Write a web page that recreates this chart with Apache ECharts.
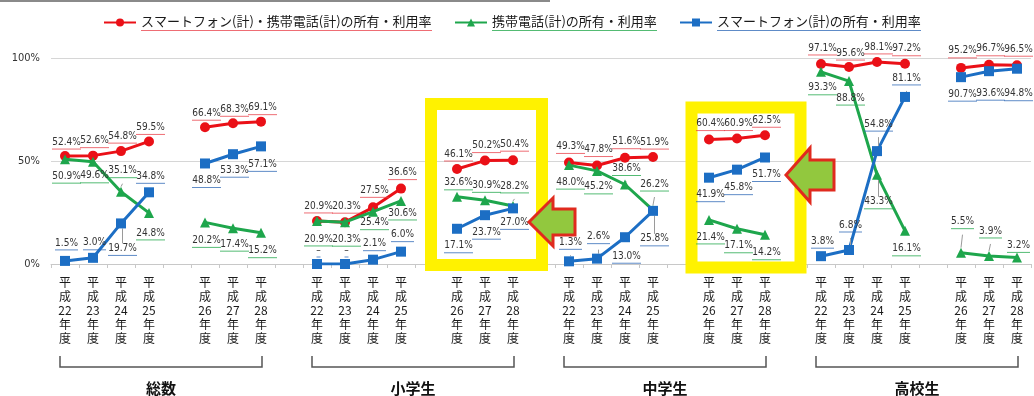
<!DOCTYPE html>
<html>
<head>
<meta charset="utf-8">
<script src="https://cdn.jsdelivr.net/npm/echarts@6/dist/echarts.min.js"></script>
<style>html,body{margin:0;padding:0;background:#fff;}#c{width:1034px;height:396px;}</style>
</head>
<body>
<div id="c"></div>
<script>
// ---------------- data ----------------
const groups = ['総数', '小学生', '中学生', '高校生'];
const years = ['平成22年度', '平成23年度', '平成24年度', '平成25年度', '平成26年度', '平成27年度', '平成28年度'];
const seriesNames = [
  'スマートフォン(計)・携帯電話(計)の所有・利用率',
  '携帯電話(計)の所有・利用率',
  'スマートフォン(計)の所有・利用率'
];
// 7 values per group, groups in order 総数, 小学生, 中学生, 高校生
const combinedRate = [52.4, 52.6, 54.8, 59.5, 66.4, 68.3, 69.1,
                      20.9, 20.3, 27.5, 36.6, 46.1, 50.2, 50.4,
                      49.3, 47.8, 51.6, 51.9, 60.4, 60.9, 62.5,
                      97.1, 95.6, 98.1, 97.2, 95.2, 96.7, 96.5];
const mobileRate = [50.9, 49.6, 35.1, 24.8, 20.2, 17.4, 15.2,
                    20.9, 20.3, 25.4, 30.6, 32.6, 30.9, 28.2,
                    48.0, 45.2, 38.6, 26.2, 21.4, 17.1, 14.2,
                    93.3, 88.8, 43.3, 16.1, 5.5, 3.9, 3.2];
// 0 = no data ("–")
const smartRate = [1.5, 3.0, 19.7, 34.8, 48.8, 53.3, 57.1,
                   0, 0, 2.1, 6.0, 17.1, 23.7, 27.0,
                   1.3, 2.6, 13.0, 25.8, 41.9, 45.8, 51.7,
                   3.8, 6.8, 54.8, 81.1, 90.7, 93.6, 94.8];
const yTicks = [0, 50, 100];

// ---------------- label layout (style, separate from data) ----------------
const combinedLabelDy = [-14, -15, -15, -14, -14, -14, -14, -15, -16, -17, -16, -15, -15, -16,
                         -16, -16, -16, -15, -16, -15, -15, -16, -14, -15, -15, -17, -16, -16];
const mobileLabelDy = [17, 14, -21, 20, 18, 16, 18, 18, 17, 11, 12, -14, -15, -20,
                       17, 16, -16, -26, 17, 17, 18, 16, 17, 27, 18, -31, -25, -12];
const smartLabelDy = [-18, -15, 25, -16, 17, 16, 18, -14, -14, -16, -17, 17, 17, 14,
                      -19, -22, 19, 28, 17, 18, 17, -15, -25, -27, -19, 17, 22, 25];
const mobileLeaders = [2, 13, 16, 17, 23, 25, 26];
const smartLeaders = [0, 1, 2, 14, 15, 17, 22, 23, 24];
const combinedLeaders = [];

// ---------------- helpers ----------------
function toSlots(arr, filler) {
  const out = [];
  for (let g = 0; g < groups.length; g++) {
    for (let k = 0; k < 7; k++) {
      if (k === 4) out.push(filler);
      out.push(arr[g * 7 + k]);
    }
    if (g < groups.length - 1) out.push(filler);
  }
  return out;
}
const groupStarts = groups.map((_, g) => g * 9);
const categories = toSlots(groups.flatMap(() => years), '');

const mctx = document.createElement('canvas').getContext('2d');
function hasFont(name) {
  const t = '52.4%mmWWiil';
  mctx.font = '40px monospace';
  const a = mctx.measureText(t).width;
  mctx.font = '40px "' + name + '", monospace';
  const b = mctx.measureText(t).width;
  return Math.abs(a - b) > 0.5;
}
let labelFont = 'Liberation Sans', labelSize = 10;
if (hasFont('Liberation Sans Narrow')) { labelFont = 'Liberation Sans Narrow'; labelSize = 11; }
else if (hasFont('DejaVu Sans Condensed')) { labelFont = 'DejaVu Sans Condensed'; labelSize = 10; }
const cjk = '"Noto Sans CJK JP", sans-serif';

function textW(text, size, fam) {
  mctx.font = size + 'px ' + fam;
  return mctx.measureText(text).width;
}
function fmtVal(v) { return v === 0 ? '–' : v.toFixed(1) + '%'; }

const colors = ['#ea1017', '#1ea64c', '#1c6ec4'];
const underline = ['rgba(232,60,70,0.75)', 'rgba(40,170,80,0.8)', 'rgba(40,100,180,0.75)'];
const symbols = ['circle', 'triangle', 'rect'];
const symSizes = [10, 10, 10];
const rates = [combinedRate, mobileRate, smartRate];
const dys = [combinedLabelDy, mobileLabelDy, smartLabelDy];
const leaders = [combinedLeaders, mobileLeaders, smartLeaders];

function makeRich(si) {
  const rich = {
    t: { fontSize: labelSize, fontFamily: labelFont, color: '#333', lineHeight: 12, align: 'center' }
  };
  for (let w = 4; w <= 40; w++) {
    rich['u' + w] = { width: w, height: 1, lineHeight: 2, backgroundColor: underline[si], align: 'center' };
  }
  return rich;
}

function buildSeries(si) {
  const vals = rates[si];
  const dyS = toSlots(dys[si], 0);
  const items = vals.map((v, i) => {
    const it = { value: v };
    if (leaders[si].indexOf(i) >= 0) it.labelLine = { show: true };
    return it;
  });
  const data = toSlots(items, null);
  return {
    name: seriesNames[si],
    type: 'line',
    data: data,
    connectNulls: false,
    symbol: symbols[si],
    symbolSize: symSizes[si],
    showAllSymbol: true,
    lineStyle: { color: colors[si], width: 3 },
    itemStyle: { color: colors[si] },
    z: 3 + si,
    label: {
      show: true,
      position: 'inside',
      formatter: function (p) {
        if (p.value == null) return '';
        const txt = fmtVal(p.value);
        const w = Math.max(4, Math.min(40, Math.round(textW(txt, labelSize, labelFont))));
        return '{t|' + txt + '}\n{u' + w + '| }';
      },
      rich: makeRich(si)
    },
    labelLine: { show: false, lineStyle: { color: '#9a9a9a', width: 1 } },
    labelLayout: function (p) {
      return { dx: 1.5, dy: dyS[p.dataIndex] + 1 };
    },
    emphasis: { disabled: true },
    animation: false
  };
}

const chart = echarts.init(document.getElementById('c'), null, { renderer: 'canvas' });

const legendRich = { t: { fontSize: 13, fontFamily: cjk, color: '#1a1a1a', lineHeight: 16 } };
seriesNames.forEach((n, i) => {
  legendRich['lu' + i] = { width: Math.round(textW(n, 13, cjk)), height: 1, lineHeight: 2, backgroundColor: underline[i] };
});

const option = {
  backgroundColor: '#ffffff',
  animation: false,
  textStyle: { fontFamily: cjk },
  legend: {
    data: seriesNames,
    left: 98,
    top: 10,
    itemWidth: 32,
    itemHeight: 10,
    itemGap: 22,
    selectedMode: false,
    formatter: function (name) {
      const i = seriesNames.indexOf(name);
      return '{t|' + name + '}\n{lu' + i + '| }';
    },
    textStyle: { rich: legendRich }
  },
  grid: { left: 51, right: 3, top: 58, bottom: 132, containLabel: false },
  xAxis: {
    type: 'category',
    data: categories,
    boundaryGap: true,
    axisLine: { show: true, lineStyle: { color: '#c8c8c8', width: 1 } },
    axisTick: { show: true, interval: 0, length: 4, lineStyle: { color: '#c8c8c8' } },
    axisLabel: {
      interval: 0,
      margin: 11,
      fontSize: 12,
      lineHeight: 14,
      fontFamily: cjk,
      color: '#1a1a1a',
      formatter: function (v) {
        if (!v) return '';
        const m = v.match(/^(平)(成)(\d+)(年)(度)$/);
        return m ? [m[1], m[2], m[3], m[4], m[5]].join('\n') : v;
      }
    }
  },
  yAxis: {
    type: 'value',
    min: yTicks[0],
    max: yTicks[yTicks.length - 1],
    interval: yTicks[1] - yTicks[0],
    axisLine: { show: false },
    axisTick: { show: false },
    axisLabel: { formatter: '{value}%', fontSize: 11, fontFamily: labelFont, color: '#333', margin: 11 },
    splitLine: { show: true, lineStyle: { color: '#d6d6d6', width: 1 } }
  },
  graphic: [
    { type: 'line', shape: { x1: 0, y1: 1, x2: 550, y2: 1 }, style: { stroke: '#8a8a8a', lineWidth: 2 }, z: 1 },
    { type: 'rect', shape: { x: 431, y: 104, width: 111, height: 161 }, style: { fill: null, stroke: '#fff200', lineWidth: 12 }, z: 1 },
    { type: 'rect', shape: { x: 691.5, y: 107.5, width: 109, height: 160 }, style: { fill: null, stroke: '#fff200', lineWidth: 12 }, z: 1 },
    { type: 'polygon', shape: { points: [[529, 222], [553, 198], [553, 209], [575, 209], [575, 235], [553, 235], [553, 246]] },
      style: { fill: '#92c83e', stroke: '#e02a1e', lineWidth: 3, lineJoin: 'miter' }, z: 10 },
    { type: 'polygon', shape: { points: [[786, 175], [810, 148], [810, 160], [834, 160], [834, 190], [810, 190], [810, 202]] },
      style: { fill: '#92c83e', stroke: '#e02a1e', lineWidth: 3, lineJoin: 'miter' }, z: 10 }
  ],
  series: [
    buildSeries(0),
    buildSeries(1),
    buildSeries(2),
    {
      type: 'custom',
      name: 'groups',
      silent: true,
      clip: false,
      z: 2,
      data: groupStarts.map(s => [s, 0]),
      encode: { x: 0, y: 1 },
      renderItem: function (params, api) {
        const s = groupStarts[params.dataIndex];
        const a = api.coord([s, 0]);
        const b = api.coord([s + 7, 0]);
        const x0 = a[0] - 5, x1 = b[0] + 1, y = a[1];
        return {
          type: 'group',
          children: [
            { type: 'polyline', shape: { points: [[x0, y + 92], [x0, y + 103], [x1, y + 103], [x1, y + 92]] },
              style: { stroke: '#555', lineWidth: 1.5, fill: null } },
            { type: 'text', style: { text: groups[params.dataIndex], x: (x0 + x1) / 2, y: y + 124,
              align: 'center', verticalAlign: 'middle', font: 'bold 15px "Noto Sans CJK JP"', fill: '#111' } }
          ]
        };
      },
      animation: false
    }
  ]
};
chart.setOption(option);
</script>
</body>
</html>
